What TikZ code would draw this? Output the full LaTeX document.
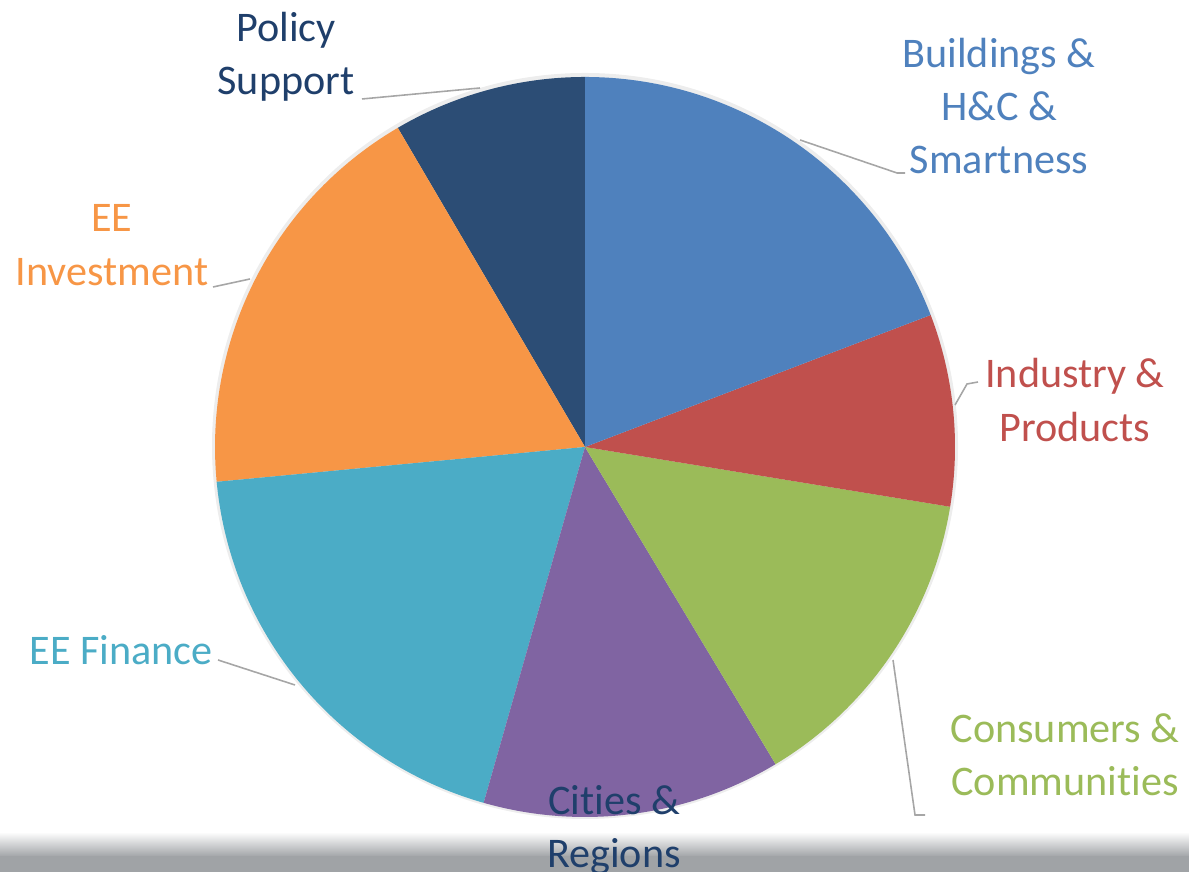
\documentclass[tikz,border=0pt]{standalone}
\usepackage{fontspec}
\setmainfont{Carlito}[Ligatures={NoCommon}]
\usepackage{tikz}
\usetikzlibrary{
  calc,
  positioning,
}
\definecolor{cBuild}{HTML}{4F81BD}
\definecolor{cIndus}{HTML}{C0504D}
\definecolor{cCons}{HTML}{9BBB59}
\definecolor{cCity}{HTML}{8064A2}
\definecolor{cFin}{HTML}{4BACC6}
\definecolor{cInv}{HTML}{F79646}
\definecolor{cPol}{HTML}{2C4D75}
\definecolor{cPolTxt}{HTML}{1F3F6B}
\definecolor{cBar}{RGB}{160,163,166}
\tikzset{
  lbl/.style = {
      align=center,
      inner sep=0pt, outer sep=0pt,
      font=\fontsize{12}{15.2}\selectfont,
    },
  leader/.style = {
      draw=gray!70,
      line width=.45pt,
    },
  slice/.style = {
      draw=none,
    },
}

\begin{document}
\begin{tikzpicture}[x=0.1mm, y=0.1mm]
    \useasboundingbox (0,0) rectangle (1189,872);
    \coordinate (c) at (585,425);

    % shadow
    \fill[black, opacity=.07] ($(c)+(0,1)$) circle[radius=373];

    \fill[slice, cPol]   (c) -- ++(90:370)    arc[start angle=90,    end angle=120.4, radius=370] -- cycle;
    \fill[slice, cInv]   (c) -- ++(120.4:370) arc[start angle=120.4, end angle=185.4, radius=370] -- cycle;
    \fill[slice, cFin]   (c) -- ++(185.4:370) arc[start angle=185.4, end angle=254.1, radius=370] -- cycle;
    \fill[slice, cCity]  (c) -- ++(254.1:370) arc[start angle=254.1, end angle=301,   radius=370] -- cycle;
    \fill[slice, cCons]  (c) -- ++(301:370)   arc[start angle=301,   end angle=350.7, radius=370] -- cycle;
    \fill[slice, cIndus] (c) -- ++(-9.3:370)  arc[start angle=-9.3,  end angle=20.9,  radius=370] -- cycle;
    \fill[slice, cBuild] (c) -- ++(20.9:370)  arc[start angle=20.9,  end angle=90,    radius=370] -- cycle;

    % grey band at the bottom
    \shade[top color=white, bottom color=cBar] (0,15) rectangle (1189,40);
    \fill[cBar] (0,0) rectangle (1189,15.5);

    \node[lbl, text=cPolTxt] (lblPol)   at (286,815)  {Policy\\Support};
    \node[lbl, text=cBuild]  (lblBuild) at (999,766)  {Buildings \&\\H\&C \&\\Smartness};
    \node[lbl, text=cIndus]  (lblIndus) at (1075,472) {Industry \&\\Products};
    \node[lbl, text=cCons]   (lblCons)  at (1065,117) {Consumers \&\\Communities};
    \node[lbl, text=cPolTxt] (lblCity)  at (614,42)   {Cities \&\\Regions};
    \node[lbl, text=cFin]    (lblFin)   at (121,222)  {EE Finance};
    \node[lbl, text=cInv]    (lblInv)   at (112,627)  {EE\\Investment};

    % leader lines
    \coordinate (tPol)   at (362,773); \coordinate (pPol)   at (480,784);
    \coordinate (tBuild) at (905,699); \coordinate (pBuild) at (800,732);
    \coordinate (tIndus) at (978,490); \coordinate (pIndus) at (955,467);
    \coordinate (tCons)  at (925,57);  \coordinate (pCons)  at (893,212);
    \coordinate (tFin)   at (218,212); \coordinate (pFin)   at (295,187);
    \coordinate (tInv)   at (213,585); \coordinate (pInv)   at (250,593);

    \draw[leader] (tPol) -- (pPol);
    \draw[leader] (tBuild) -- ++(-8,0) -- (pBuild);
    \draw[leader] (tIndus) -- ++(-11,-2) -- (pIndus);
    \draw[leader] (tCons) -- ++(-10,0) -- (pCons);
    \draw[leader] (tFin) -- (pFin);
    \draw[leader] (tInv) -- (pInv);
\end{tikzpicture}
\end{document}
